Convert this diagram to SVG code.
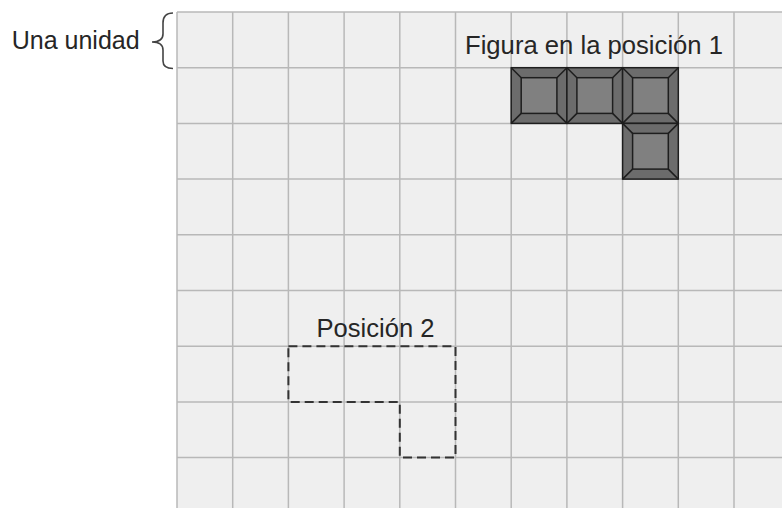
<svg xmlns="http://www.w3.org/2000/svg" xmlns:xlink="http://www.w3.org/1999/xlink" width="782" height="508" viewBox="0 0 782 508">
<style>
.grid line{stroke:#b8b8b8;stroke-width:1.5}
.lbl{font-family:"Liberation Sans",Arial,sans-serif;font-size:25px;fill:#262626}
.bev{fill:#6c6c6c;stroke:#1e1e1e;stroke-width:1.5}
.inn{fill:#808080;stroke:#1e1e1e;stroke-width:1.5}
.bl{stroke:#1e1e1e;stroke-width:1.5}
</style>
<defs>
<g id="tile">
<rect class="bev" x="0" y="0" width="55.7" height="55.7"/>
<rect class="inn" x="10" y="10" width="35.7" height="35.7"/>
<line class="bl" x1="0" y1="0" x2="10" y2="10"/>
<line class="bl" x1="55.7" y1="0" x2="45.7" y2="10"/>
<line class="bl" x1="0" y1="55.7" x2="10" y2="45.7"/>
<line class="bl" x1="55.7" y1="55.7" x2="45.7" y2="45.7"/>
</g>
</defs>
<rect x="0" y="0" width="782" height="508" fill="#ffffff"/>
<g id="grid" class="grid">
<rect x="177" y="12" width="605" height="496" fill="#efefef"/>
<line x1="177" y1="12" x2="177" y2="508"/>
<line x1="232.7" y1="12" x2="232.7" y2="508"/>
<line x1="288.4" y1="12" x2="288.4" y2="508"/>
<line x1="344.1" y1="12" x2="344.1" y2="508"/>
<line x1="399.8" y1="12" x2="399.8" y2="508"/>
<line x1="455.5" y1="12" x2="455.5" y2="508"/>
<line x1="511.2" y1="12" x2="511.2" y2="508"/>
<line x1="566.9" y1="12" x2="566.9" y2="508"/>
<line x1="622.6" y1="12" x2="622.6" y2="508"/>
<line x1="678.3" y1="12" x2="678.3" y2="508"/>
<line x1="734" y1="12" x2="734" y2="508"/>
<line x1="177" y1="12" x2="782" y2="12"/>
<line x1="177" y1="67.7" x2="782" y2="67.7"/>
<line x1="177" y1="123.4" x2="782" y2="123.4"/>
<line x1="177" y1="179.1" x2="782" y2="179.1"/>
<line x1="177" y1="234.8" x2="782" y2="234.8"/>
<line x1="177" y1="290.5" x2="782" y2="290.5"/>
<line x1="177" y1="346.2" x2="782" y2="346.2"/>
<line x1="177" y1="401.9" x2="782" y2="401.9"/>
<line x1="177" y1="457.6" x2="782" y2="457.6"/>
</g>
<g id="unit-label">
<text class="lbl" x="11.7" y="49" textLength="128" lengthAdjust="spacingAndGlyphs">Una unidad</text>
<path d="M173,13 C166,13 163,16 163,23 L163,34 C163,39 159,42 152,42 C159,42 163,45 163,50 L163,61 C163,66 166,68.5 173,68.5" fill="none" stroke="#444" stroke-width="1.6"/>
</g>
<g id="figure-1">
<use xlink:href="#tile" href="#tile" x="511.2" y="67.7"/>
<use xlink:href="#tile" href="#tile" x="566.9" y="67.7"/>
<use xlink:href="#tile" href="#tile" x="622.6" y="67.7"/>
<use xlink:href="#tile" href="#tile" x="622.6" y="123.4"/>
<text class="lbl" x="465" y="54" textLength="258" lengthAdjust="spacingAndGlyphs">Figura en la posición 1</text>
</g>
<g id="position-2">
<path d="M288.4,346.2 H455.5 V457.6 H399.8 V401.9 H288.4 Z" fill="none" stroke="#333" stroke-width="2" stroke-dasharray="9 5"/>
<text class="lbl" x="316.5" y="337" textLength="118" lengthAdjust="spacingAndGlyphs">Posición 2</text>
</g>
</svg>
